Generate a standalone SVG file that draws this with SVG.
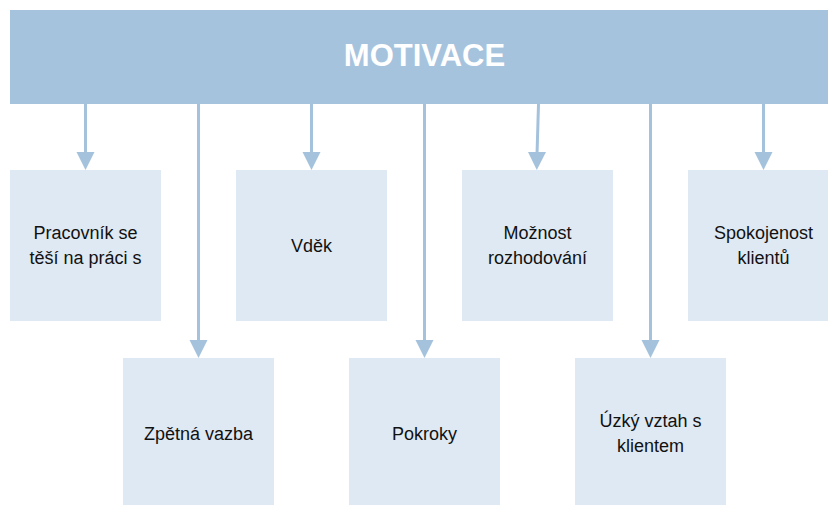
<svg xmlns="http://www.w3.org/2000/svg" width="828" height="505" viewBox="0 0 828 505">
<style>
.box{fill:#DFE9F3}
.lbl{font-family:"Liberation Sans",Arial,sans-serif;font-size:18px;fill:#111;text-anchor:middle}
.con{stroke:#A5C2DD;stroke-width:3;fill:none}
.head{fill:#A5C2DD}
</style>
<rect width="828" height="505" fill="#FFFFFF"/>
<g id="motivace">
<rect x="10" y="10" width="830" height="94" fill="#A6C3DE"/>
<text x="424.5" y="66" font-family="'Liberation Sans',Arial,sans-serif" font-size="31" font-weight="bold" fill="#FFFFFF" text-anchor="middle">MOTIVACE</text>
</g>
<g id="connectors">
<line class="con" x1="85.5" y1="104" x2="85.5" y2="155"/>
<polygon class="head" points="76.5,152 94.5,152 85.5,170"/>
<line class="con" x1="198.5" y1="104" x2="198.5" y2="343"/>
<polygon class="head" points="189.5,340 207.5,340 198.5,358"/>
<line class="con" x1="311.5" y1="104" x2="311.5" y2="155"/>
<polygon class="head" points="302.5,152 320.5,152 311.5,170"/>
<line class="con" x1="424.5" y1="104" x2="424.5" y2="343"/>
<polygon class="head" points="415.5,340 433.5,340 424.5,358"/>
<line class="con" x1="538.5" y1="104" x2="537" y2="155"/>
<polygon class="head" points="528,152 546,152 536.8,170"/>
<line class="con" x1="650.5" y1="104" x2="650.5" y2="343"/>
<polygon class="head" points="641.5,340 659.5,340 650.5,358"/>
<line class="con" x1="763.5" y1="104" x2="763.5" y2="155"/>
<polygon class="head" points="754.5,152 772.5,152 763.5,170"/>
</g>
<g id="n1">
<rect class="box" x="10" y="170" width="151" height="151"/>
<text class="lbl" x="85.5" y="238.5">Pracovník se</text>
<text class="lbl" x="85.5" y="263.5">těší na práci s</text>
</g>
<g id="n2">
<rect class="box" x="123" y="358" width="151" height="151"/>
<text class="lbl" x="198.5" y="440">Zpětná vazba</text>
</g>
<g id="n3">
<rect class="box" x="236" y="170" width="151" height="151"/>
<text class="lbl" x="311.5" y="252">Vděk</text>
</g>
<g id="n4">
<rect class="box" x="349" y="358" width="151" height="151"/>
<text class="lbl" x="424.5" y="439.5">Pokroky</text>
</g>
<g id="n5">
<rect class="box" x="462" y="170" width="151" height="151"/>
<text class="lbl" x="537.5" y="238.5">Možnost</text>
<text class="lbl" x="537.5" y="263.5">rozhodování</text>
</g>
<g id="n6">
<rect class="box" x="575" y="358" width="151" height="151"/>
<text class="lbl" x="650.5" y="427">Úzký vztah s</text>
<text class="lbl" x="650.5" y="452">klientem</text>
</g>
<g id="n7">
<rect class="box" x="688" y="170" width="151" height="151"/>
<text class="lbl" x="763.5" y="238.5">Spokojenost</text>
<text class="lbl" x="763.5" y="263.5">klientů</text>
</g>
</svg>
